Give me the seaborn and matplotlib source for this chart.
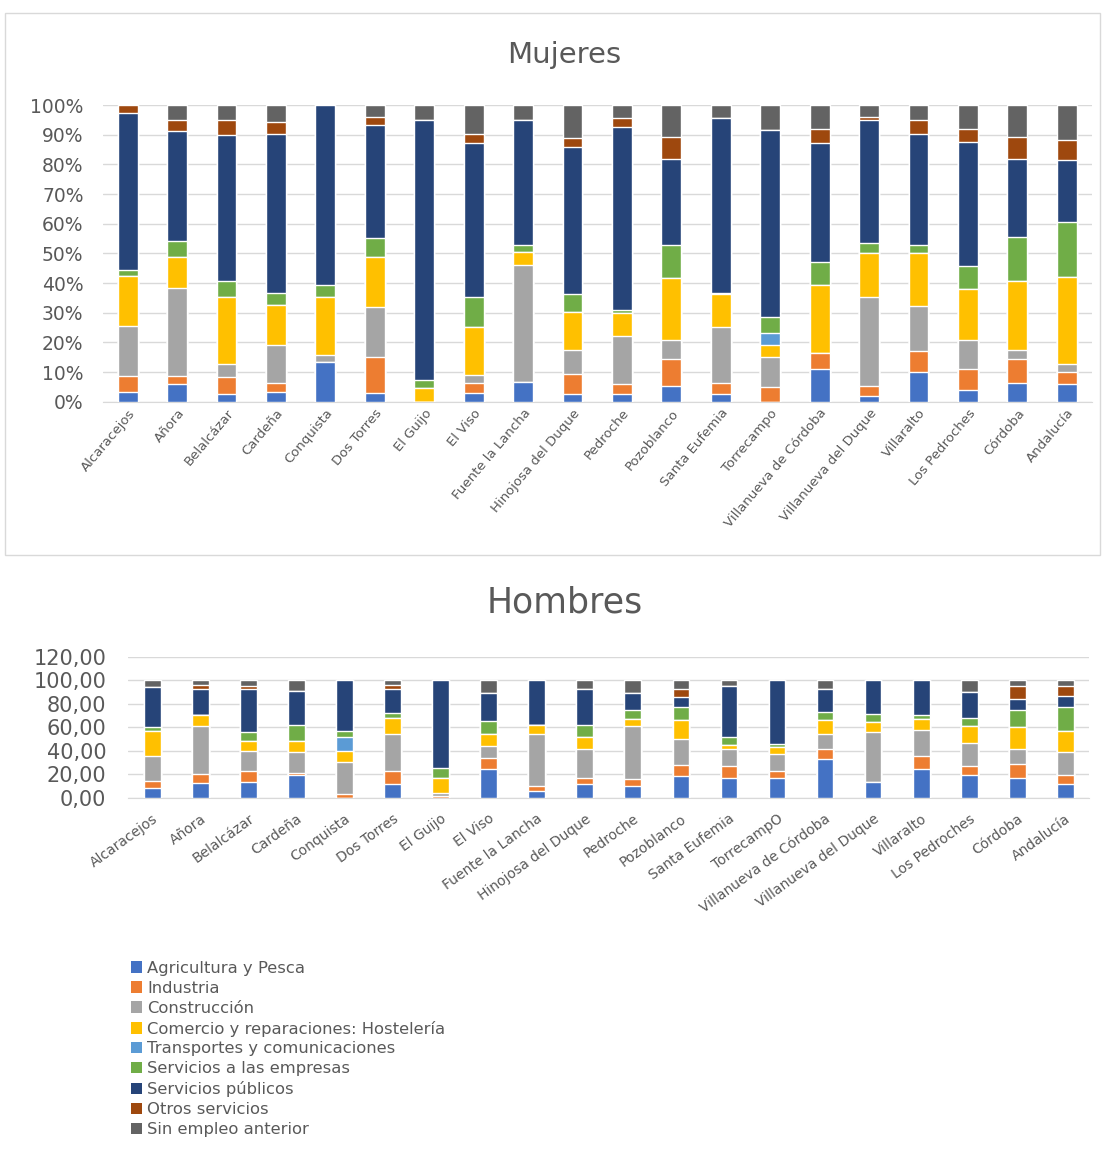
import numpy as np
import pandas as pd
import matplotlib
matplotlib.use("Agg")
import matplotlib.pyplot as plt
import seaborn as sns
from matplotlib.patches import Patch, Rectangle
from matplotlib.ticker import FuncFormatter

municipios = ["Alcaracejos", "Añora", "Belalcázar", "Cardeña", "Conquista", "Dos Torres",
              "El Guijo", "El Viso", "Fuente la Lancha", "Hinojosa del Duque", "Pedroche",
              "Pozoblanco", "Santa Eufemia", "Torrecampo", "Villanueva de Córdoba",
              "Villanueva del Duque", "Villaralto", "Los Pedroches", "Córdoba", "Andalucía"]
etiquetas_h = municipios[:13] + ["TorrecampO"] + municipios[14:]

sectores = ["Agricultura y Pesca", "Industria", "Construcción",
            "Comercio y reparaciones: Hostelería", "Transportes y comunicaciones",
            "Servicios a las empresas", "Servicios públicos", "Otros servicios",
            "Sin empleo anterior"]
colores = ["#4472C4", "#ED7D31", "#A5A5A5", "#FFC000", "#5B9BD5",
           "#70AD47", "#264478", "#9E480E", "#636363"]

# Mujeres (% del total)
m_agri = [3.4, 6.0, 2.6, 3.4, 13.5, 3.0, 0, 3.0, 6.7, 2.6, 2.6, 5.3, 2.6, 0, 10.9, 1.9, 10.1, 3.9, 6.4, 6.0]
m_ind = [5.3, 2.7, 5.8, 2.8, 0, 12.2, 0, 3.2, 0, 6.7, 3.4, 9.0, 3.6, 5.1, 5.6, 3.4, 7.1, 7.3, 7.9, 4.1]
m_cons = [16.8, 29.5, 4.5, 12.9, 2.2, 16.8, 0, 2.8, 39.4, 8.1, 16.1, 6.5, 18.9, 10.1, 0, 29.9, 15.0, 9.6, 3.1, 2.8]
m_com = [16.9, 10.7, 22.3, 13.5, 19.5, 16.9, 4.5, 16.3, 4.5, 12.9, 7.7, 20.8, 11.2, 3.9, 22.8, 15.0, 18.0, 17.1, 23.4, 29.2]
m_trans = [0, 0, 0, 0, 0, 0, 0, 0, 0, 0, 0, 0, 0, 4.2, 0, 0, 0, 0, 0, 0]
m_emp = [2.0, 5.4, 5.6, 4.1, 4.1, 6.2, 3.0, 9.9, 2.2, 6.2, 1.1, 11.2, 0.5, 5.4, 7.9, 3.4, 2.6, 7.8, 14.8, 18.6]
m_pub = [52.8, 37.0, 49.1, 53.7, 60.7, 38.2, 87.4, 51.9, 42.1, 49.5, 61.8, 29.2, 58.7, 62.9, 39.9, 41.3, 37.6, 41.9, 26.4, 20.8]
m_otros = [2.8, 3.6, 5.1, 4.0, 0, 2.8, 0, 3.3, 0, 2.8, 2.8, 7.3, 0, 0, 5.0, 1.1, 4.5, 4.2, 7.3, 6.7]
m_sin = [0, 5.1, 5.0, 5.6, 0, 3.9, 5.1, 9.6, 5.1, 11.2, 4.5, 10.7, 4.5, 8.4, 7.9, 4.0, 5.1, 8.2, 10.7, 11.8]

# Hombres
h_agri = [8.6, 12.3, 13.4, 19.1, 0, 11.4, 0, 24.3, 5.7, 11.4, 10.0, 18.6, 17.1, 17.1, 32.9, 13.4, 24.3, 19.1, 17.1, 11.4]
h_ind = [5.7, 7.7, 9.5, 2.0, 2.9, 11.5, 1.5, 10.0, 4.3, 5.7, 5.7, 9.1, 10.0, 5.8, 8.5, 0, 11.4, 8.0, 11.5, 7.7]
h_cons = [21.4, 40.9, 17.1, 17.5, 27.7, 31.4, 2.2, 10.0, 44.3, 24.3, 45.2, 22.3, 14.3, 14.2, 12.9, 42.9, 22.3, 20.0, 12.8, 19.5]
h_com = [21.4, 9.7, 8.6, 10.0, 9.4, 13.4, 13.4, 10.0, 7.7, 10.0, 6.2, 16.6, 3.5, 5.8, 12.3, 8.0, 9.1, 13.8, 18.6, 18.5]
h_trans = [0, 0, 0, 0, 11.4, 0, 0, 0, 0, 0, 0, 0, 0, 0, 0, 0, 0, 0, 0, 0]
h_emp = [2.9, 0, 7.7, 13.4, 5.7, 4.6, 8.6, 11.4, 0, 10.6, 8.0, 10.5, 6.5, 2.8, 6.8, 7.1, 3.5, 6.8, 15.1, 20.0]
h_pub = [34.3, 22.3, 36.6, 29.4, 42.9, 20.0, 74.3, 23.7, 38.0, 30.9, 14.3, 8.6, 43.7, 54.3, 19.5, 28.6, 29.4, 22.3, 9.2, 9.5]
h_otros = [0, 3.0, 2.8, 0, 0, 4.0, 0, 0, 0, 0, 0, 7.2, 0, 0, 0, 0, 0, 0, 11.4, 9.1]
h_sin = [5.7, 4.1, 4.3, 8.6, 0, 3.7, 0, 10.6, 0, 7.1, 10.6, 7.1, 4.9, 0, 7.1, 0, 0, 10.0, 4.3, 4.3]

mujeres = [m_agri, m_ind, m_cons, m_com, m_trans, m_emp, m_pub, m_otros, m_sin]
hombres = [h_agri, h_ind, h_cons, h_com, h_trans, h_emp, h_pub, h_otros, h_sin]

sns.set_style("white")
plt.rcParams["font.family"] = ["DejaVu Sans"]
gris = "#595959"

fig = plt.figure(figsize=(11.07, 11.68), dpi=100)
ax1 = fig.add_axes([0.093, 0.656, 0.893, 0.254])
ax2 = fig.add_axes([0.116, 0.317, 0.868, 0.1205])


def apilar(ax, series, etiquetas, ancho):
    acum = np.cumsum(np.array(series), axis=0)
    df = pd.DataFrame(acum.T, columns=sectores)
    df["municipio"] = etiquetas
    # de arriba hacia abajo para que cada barra tape a la anterior
    for i in range(len(sectores) - 1, -1, -1):
        sns.barplot(data=df, x="municipio", y=sectores[i], order=etiquetas,
                    color=colores[i], saturation=1, width=ancho, ax=ax, zorder=3)
    ax.set_xlabel("")
    ax.set_ylabel("")
    ax.grid(axis="y", color="#d9d9d9", linewidth=1, zorder=0)
    for s in ["top", "right", "left"]:
        ax.spines[s].set_visible(False)
    ax.spines["bottom"].set_color("#d9d9d9")
    ax.tick_params(length=0, colors=gris)


apilar(ax1, mujeres, municipios, 0.4)
ax1.set_ylim(0, 100)
ax1.set_yticks(range(0, 101, 10))
ax1.yaxis.set_major_formatter(FuncFormatter(lambda v, p: f"{int(v)}%"))
ax1.tick_params(axis="y", labelsize=13.5, pad=14)
plt.setp(ax1.get_xticklabels(), rotation=50, ha="right", rotation_mode="anchor", fontsize=9.5, color=gris)
fig.text(0.51, 0.953, "Mujeres", ha="center", va="center", fontsize=21, color=gris)

apilar(ax2, hombres, etiquetas_h, 0.35)
ax2.set_ylim(0, 120)
ax2.set_yticks(range(0, 121, 20))
ax2.yaxis.set_major_formatter(FuncFormatter(lambda v, p: f"{int(v)},00"))
ax2.tick_params(axis="y", labelsize=15, pad=16)
ax2.tick_params(axis="x", pad=10)
plt.setp(ax2.get_xticklabels(), rotation=36, ha="right", rotation_mode="anchor", fontsize=10, color=gris)
fig.text(0.51, 0.484, "Hombres", ha="center", va="center", fontsize=25, color=gris)

fig.patches.append(Rectangle((5 / 1107, 1 - 555 / 1168), 1095 / 1107, 542 / 1168,
                             transform=fig.transFigure, fill=False, edgecolor="#d9d9d9", linewidth=1))

handles = [Patch(facecolor=c, edgecolor="none") for c in colores]
leg = fig.legend(handles, sectores, loc="upper left", bbox_to_anchor=(0.112, 0.183),
                 frameon=False, fontsize=11.8, handlelength=0.7, handleheight=0.7,
                 handletextpad=0.3, labelspacing=0.3, borderaxespad=0)
for t in leg.get_texts():
    t.set_color(gris)

fig.savefig("out.png", dpi=100)
